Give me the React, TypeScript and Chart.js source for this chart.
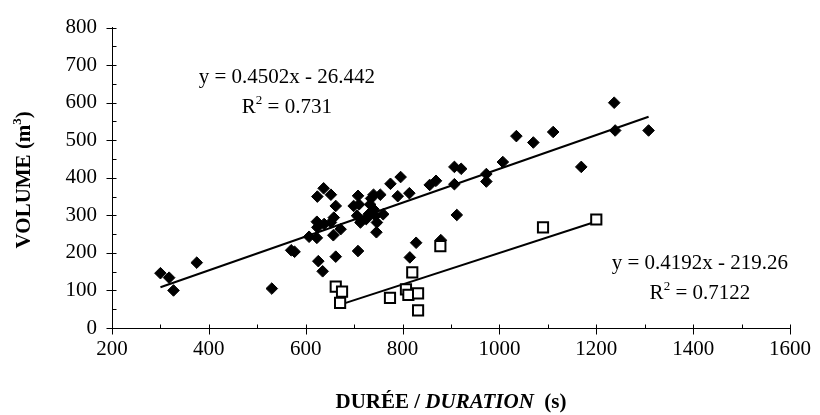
import { useEffect, useRef } from "react";
import { Chart, registerables } from "chart.js";

Chart.register(...registerables);

// Series A (filled diamonds): duration (s) / volume (m3)
const durationA = [
  300, 318, 327, 375, 530, 570, 577,
  607, 623, 624, 623, 624, 626, 635, 637, 638, 652, 652, 657, 658, 662, 662, 672,
  699, 706, 708, 708, 710, 713, 725,
  730, 733, 735, 740, 740, 744, 746, 747, 754, 760,
  775, 790, 796, 814, 815, 828, 856, 869, 879,
  907, 907, 912, 921, 973, 973, 1007, 1035, 1070, 1111, 1169, 1237, 1239, 1308,
];
const volumeA = [
  146, 134, 100, 174, 105, 207, 203,
  243, 240, 268, 283, 350, 178, 151, 372, 277, 281, 355, 247, 294, 325, 190, 263,
  325, 299, 352, 205, 329, 281, 290,
  303, 329, 345, 316, 355, 299, 255, 281, 355, 303,
  384, 351, 402, 359, 188, 227, 381, 392, 234,
  383, 429, 301, 424, 390, 410, 442, 511, 494, 522, 429, 600, 526, 526,
];

// Series B (open squares)
const durationB = [662, 675, 671, 774, 807, 812, 820, 832, 832, 878, 1090, 1200];
const volumeB = [110, 97, 67, 80, 103, 88, 148, 92, 47, 218, 268, 289];

// Trend lines as printed on the chart
const trendA = { slope: 0.4502, intercept: -26.442, r2: "0.731", eqX: 561, eqY: 667 };
const trendB = { slope: 0.4192, intercept: -219.26, r2: "0.7122", eqX: 1414, eqY: 172 };

const xTickValues = [200, 400, 600, 800, 1000, 1200, 1400, 1600];
const yTickValues = [0, 100, 200, 300, 400, 500, 600, 700, 800];

const xTitleParts = [
  { text: "DURÉE / ", italic: false },
  { text: "DURATION", italic: true },
  { text: "  (s)", italic: false },
];
const yTitleBase = "VOLUME (m";
const yTitleSup = "3";
const yTitleEnd = ")";

const FONT = "'Liberation Serif', 'Times New Roman', serif";
const FS = 21;
const SUP = 13;

function trendPoints(t: { slope: number; intercept: number }, xs: number[]) {
  const lo = Math.min(...xs);
  const hi = Math.max(...xs);
  return [
    { x: lo, y: t.slope * lo + t.intercept },
    { x: hi, y: t.slope * hi + t.intercept },
  ];
}

function eqText(t: { slope: number; intercept: number }) {
  const sign = t.intercept < 0 ? "-" : "+";
  return `y = ${t.slope}x ${sign} ${Math.abs(t.intercept)}`;
}

// draw text runs centered at (cx, cy); each run: text, font, dy (raise)
function drawRuns(ctx: any, runs: { t: string; f: string; dy: number }[], cx: number, cy: number) {
  let total = 0;
  const ws = runs.map((r) => {
    ctx.font = r.f;
    const w = ctx.measureText(r.t).width;
    total += w;
    return w;
  });
  let x = cx - total / 2;
  ctx.textAlign = "left";
  runs.forEach((r, i) => {
    ctx.font = r.f;
    ctx.fillText(r.t, x, cy + r.dy);
    x += ws[i];
  });
}

const decorPlugin = {
  id: "decor",
  afterDraw(chart: any) {
    const ctx = chart.ctx;
    const xs = chart.scales.x;
    const ys = chart.scales.y;
    const area = chart.chartArea;
    ctx.save();
    ctx.strokeStyle = "#000";
    ctx.lineWidth = 1;
    // x ticks
    const bottom = Math.round(area.bottom) + 0.5;
    for (let v = xs.min; v <= xs.max; v += 100) {
      const px = Math.round(xs.getPixelForValue(v)) + 0.5;
      const major = v % 200 === 0;
      ctx.beginPath();
      ctx.moveTo(px, bottom - 4);
      ctx.lineTo(px, major ? bottom + 6 : bottom);
      ctx.stroke();
    }
    // y ticks
    const left = Math.round(area.left) + 0.5;
    for (let v = ys.min; v <= ys.max; v += 50) {
      const py = Math.round(ys.getPixelForValue(v)) + 0.5;
      const major = v % 100 === 0;
      ctx.beginPath();
      ctx.moveTo(major ? left - 6 : left, py);
      ctx.lineTo(left + 4, py);
      ctx.stroke();
    }
    // equations
    ctx.fillStyle = "#000";
    ctx.textBaseline = "middle";
    const reg = `${FS}px ${FONT}`;
    const sup = `${SUP}px ${FONT}`;
    for (const t of [trendA, trendB]) {
      const cx = xs.getPixelForValue(t.eqX);
      const cy = ys.getPixelForValue(t.eqY);
      drawRuns(ctx, [{ t: eqText(t), f: reg, dy: 0 }], cx, cy);
      drawRuns(
        ctx,
        [
          { t: "R", f: reg, dy: 0 },
          { t: "2", f: sup, dy: -7 },
          { t: ` = ${t.r2}`, f: reg, dy: 0 },
        ],
        cx,
        cy + 30
      );
    }
    // x title
    const boldFont = `bold ${FS}px ${FONT}`;
    const italicFont = `italic bold ${FS}px ${FONT}`;
    drawRuns(
      ctx,
      xTitleParts.map((p) => ({ t: p.text, f: p.italic ? italicFont : boldFont, dy: 0 })),
      (area.left + area.right) / 2,
      403
    );
    // y title
    ctx.save();
    ctx.translate(25, (area.top + area.bottom) / 2 + 2);
    ctx.rotate(-Math.PI / 2);
    drawRuns(
      ctx,
      [
        { t: yTitleBase, f: boldFont, dy: 0 },
        { t: yTitleSup, f: `bold ${SUP}px ${FONT}`, dy: -7 },
        { t: yTitleEnd, f: boldFont, dy: 0 },
      ],
      0,
      0
    );
    ctx.restore();
    ctx.restore();
  },
};

export default function App() {
  const ref = useRef<HTMLCanvasElement | null>(null);
  useEffect(() => {
    if (!ref.current) return;
    const chart = new Chart(ref.current, {
      type: "scatter",
      data: {
        datasets: [
          {
            label: "A",
            data: durationA.map((x, i) => ({ x, y: volumeA[i] })),
            pointStyle: "rectRot",
            pointRadius: 5.8,
            pointBackgroundColor: "#000",
            pointBorderColor: "#000",
            pointBorderWidth: 1,
            order: 1,
          },
          {
            label: "B",
            data: durationB.map((x, i) => ({ x, y: volumeB[i] })),
            pointStyle: "rect",
            pointRadius: 7.2,
            pointBackgroundColor: "#fff",
            pointBorderColor: "#000",
            pointBorderWidth: 2,
            order: 0,
          },
          {
            label: "trendA",
            data: trendPoints(trendA, durationA),
            showLine: true,
            pointRadius: 0,
            borderColor: "#000",
            borderWidth: 2,
            order: 3,
          },
          {
            label: "trendB",
            data: trendPoints(trendB, durationB),
            showLine: true,
            pointRadius: 0,
            borderColor: "#000",
            borderWidth: 2,
            order: 3,
          },
        ],
      },
      options: {
        animation: false,
        responsive: false,
        layout: { padding: { top: 21, right: 22, left: 0, bottom: 0 } },
        plugins: { legend: { display: false }, tooltip: { enabled: false } },
        scales: {
          x: {
            type: "linear",
            min: 200,
            max: 1600,
            afterFit: (s: any) => {
              s.height = 87;
            },
            afterBuildTicks: (s: any) => {
              s.ticks = xTickValues.map((v) => ({ value: v }));
            },
            grid: { display: false, drawTicks: false },
            border: { display: true, color: "#000", width: 1 },
            ticks: {
              padding: 9,
              color: "#000",
              font: { family: FONT, size: FS },
              maxRotation: 0,
              callback: (v: any) => String(v),
            },
          },
          y: {
            type: "linear",
            min: 0,
            max: 800,
            afterFit: (s: any) => {
              s.width = 112;
            },
            afterBuildTicks: (s: any) => {
              s.ticks = yTickValues.map((v) => ({ value: v }));
            },
            grid: { display: false, drawTicks: false },
            border: { display: true, color: "#000", width: 1 },
            ticks: {
              padding: 15,
              color: "#000",
              font: { family: FONT, size: FS },
              callback: (v: any) => String(v),
            },
          },
        },
      },
      plugins: [decorPlugin],
    });
    return () => chart.destroy();
  }, []);
  return (
    <div style={{ position: "absolute", left: 0, top: 0, width: 820, height: 415, background: "#fff" }}>
      <canvas ref={ref} width={820} height={415} />
    </div>
  );
}
